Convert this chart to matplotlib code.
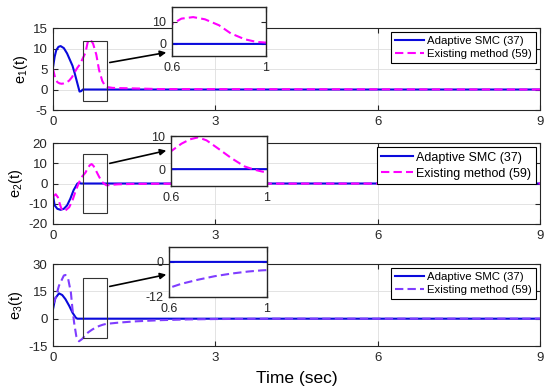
import matplotlib
matplotlib.use('Agg')
import matplotlib.pyplot as plt
from matplotlib.patches import Rectangle

plt.rcParams['font.family'] = ['Liberation Sans', 'DejaVu Sans']
plt.rcParams['mathtext.default'] = 'regular'
plt.rcParams['axes.unicode_minus'] = False

# values (time in sec)
t_a1 = [0, 0.03, 0.06, 0.1, 0.14, 0.2, 0.26, 0.32, 0.36, 0.4, 0.44, 0.47, 0.49, 0.52, 0.55, 1.0, 9]
e1_smc = [5.4, 8.0, 9.6, 10.4, 10.6, 10.1, 8.8, 7.0, 5.8, 4.0, 2.0, 0.5, -0.5, -0.4, 0, 0, 0]
t_b1 = [0, 0.04, 0.08, 0.12, 0.16, 0.2, 0.25, 0.3, 0.35, 0.4, 0.45, 0.5, 0.55, 0.6, 0.64, 0.69,
        0.74, 0.8, 0.85, 0.91, 0.96, 1.0, 1.05, 1.1, 1.2, 1.4, 1.7, 2.0, 9]
e1_old = [5.0, 2.8, 1.8, 1.5, 1.4, 1.5, 1.7, 2.2, 3.0, 4.2, 5.3, 6.2, 7.6, 9.0, 11.5, 12.2,
          11.2, 8.5, 4.8, 2.1, 0.9, 0.6, 0.5, 0.4, 0.35, 0.3, 0.2, 0.1, 0]

t_a2 = [0, 0.03, 0.08, 0.14, 0.2, 0.26, 0.32, 0.38, 0.45, 0.48, 0.52, 1.0, 9]
e2_smc = [-5.8, -10.8, -12.5, -13.0, -12.5, -10.8, -7.5, -3.3, 0, 0.3, 0, 0, 0]
t_b2 = [0, 0.05, 0.09, 0.13, 0.17, 0.23, 0.3, 0.36, 0.42, 0.48, 0.54, 0.6, 0.644, 0.679, 0.713,
        0.748, 0.797, 0.852, 0.907, 0.949, 0.99, 1.05, 1.1, 1.2, 1.5, 2.0, 9]
e2_old = [-6.5, -5.3, -6.8, -10.5, -13.5, -13.3, -11.7, -8.3, -3.5, 0.5, 3.5, 5.4, 7.7, 9.0, 9.6,
          8.7, 6.2, 3.3, 0.8, -0.2, -0.9, -0.8, -0.6, -0.4, -0.2, -0.1, 0]

t_a3 = [0, 0.04, 0.11, 0.17, 0.23, 0.3, 0.36, 0.42, 0.45, 1.0, 9]
e3_smc = [5.2, 11.1, 13.9, 13.0, 10.7, 7.0, 3.3, 0.6, 0, 0, 0]
t_b3 = [0, 0.04, 0.11, 0.2, 0.23, 0.28, 0.33, 0.36, 0.39, 0.43, 0.48, 0.54, 0.6, 0.65, 0.718,
        0.786, 0.854, 0.922, 0.977, 1.0, 1.2, 1.5, 2.0, 2.5, 3.0, 4.0, 9]
e3_old = [8.0, 10.7, 18.1, 23.7, 24.0, 21.8, 14.4, 5.2, -2.2, -9.6, -12.4, -11.1, -8.9, -7.5, -6.1,
          -4.9, -4.0, -3.3, -2.9, -2.8, -2.2, -1.5, -0.8, -0.4, -0.2, 0, 0]

labels = ['Adaptive SMC (37)', 'Existing method (59)']
ylabels = ['e$_1$(t)', 'e$_2$(t)', 'e$_3$(t)']
yticks_main = [[-5, 0, 5, 10, 15], [-20, -10, 0, 10, 20], [-15, 0, 15, 30]]
yticks_zoom = [[0, 10], [0, 10], [-12, 0]]
xticks_main = [0, 3, 6, 9]
xticks_zoom = [0.6, 1]
xticklabels_zoom = ['0.6', '1']

blue = '#0a0adc'
old_colors = ['#ff00ff', '#ff00ff', '#7f3dff']

series = [(t_a1, e1_smc, t_b1, e1_old), (t_a2, e2_smc, t_b2, e2_old), (t_a3, e3_smc, t_b3, e3_old)]

fig = plt.figure(figsize=(5.5, 3.86), dpi=100)

main_pos = [[0.0964, 0.715, 0.8855, 0.2124],
            [0.0964, 0.4197, 0.8855, 0.2098],
            [0.0964, 0.1036, 0.8855, 0.2124]]
zoom_pos = [[0.3127, 0.8549, 0.1709, 0.127],
            [0.3109, 0.5181, 0.1745, 0.1295],
            [0.3073, 0.2306, 0.178, 0.1295]]
main_ylim = [(-5, 15), (-20, 20), (-15, 30)]
zoom_ylim = [(-5.5, 16.8), (-5.1, 10), (-12, 5.1)]
boxes = [(0.56, -2.7, 0.44, 14.5), (0.56, -14.5, 0.44, 29.0), (0.56, -10.4, 0.44, 33.0)]
arrows = [((107, 323), (169, 334)), ((107, 222), (169, 236)), ((107, 99), (169, 112))]
leg_font = [8.2, 9.0, 8.2]


def style_axes(ax, size):
    for s in ax.spines.values():
        s.set_color('#262626')
        s.set_linewidth(0.8)
    ax.tick_params(direction='in', top=True, right=True, length=3.5, width=0.8,
                   labelsize=size, colors='#262626', pad=4)


mains = []
for i, (ta, ea, tb, eb) in enumerate(series):
    ax = fig.add_axes(main_pos[i])
    ax.plot(ta, ea, color=blue, lw=1.5, label=labels[0])
    ax.plot(tb, eb, color=old_colors[i], lw=1.5, ls='--', dashes=(4, 2), label=labels[1])
    ax.set_xlim(0, 9)
    ax.set_ylim(*main_ylim[i])
    ax.set_xticks(xticks_main)
    ax.set_yticks(yticks_main[i])
    ax.grid(color='#dedede', lw=0.6)
    ax.set_axisbelow(True)
    style_axes(ax, 9.5)
    ax.set_ylabel(ylabels[i], fontsize=10.5, labelpad=2)
    bx = boxes[i]
    ax.add_patch(Rectangle((bx[0], bx[1]), bx[2], bx[3], fill=False,
                           edgecolor='#333333', lw=0.8, zorder=5))
    leg = ax.legend(loc='upper right', fontsize=leg_font[i], frameon=True, fancybox=False,
                    edgecolor='black', framealpha=1, borderaxespad=0.35, borderpad=0.35,
                    labelspacing=0.3, handlelength=2.5, handletextpad=0.3)
    leg.get_frame().set_linewidth(0.8)
    ax.annotate('', xy=arrows[i][1], xycoords='figure pixels',
                xytext=arrows[i][0], textcoords='figure pixels',
                arrowprops=dict(arrowstyle='-|>', color='black', lw=1.2, mutation_scale=9),
                annotation_clip=False)
    mains.append(ax)

mains[2].set_xlabel('Time (sec)', fontsize=12.5, labelpad=5)

for i, (ta, ea, tb, eb) in enumerate(series):
    axz = fig.add_axes(zoom_pos[i])
    axz.plot(ta, ea, color=blue, lw=1.5)
    axz.plot(tb, eb, color=old_colors[i], lw=1.5, ls='--', dashes=(4, 2))
    axz.set_xlim(0.6, 1)
    axz.set_ylim(*zoom_ylim[i])
    axz.set_xticks(xticks_zoom)
    axz.set_xticklabels(xticklabels_zoom)
    axz.set_yticks(yticks_zoom[i])
    style_axes(axz, 9)
    axz.spines[:].set_linewidth(1.0)

fig.savefig('out.png', dpi=100)
